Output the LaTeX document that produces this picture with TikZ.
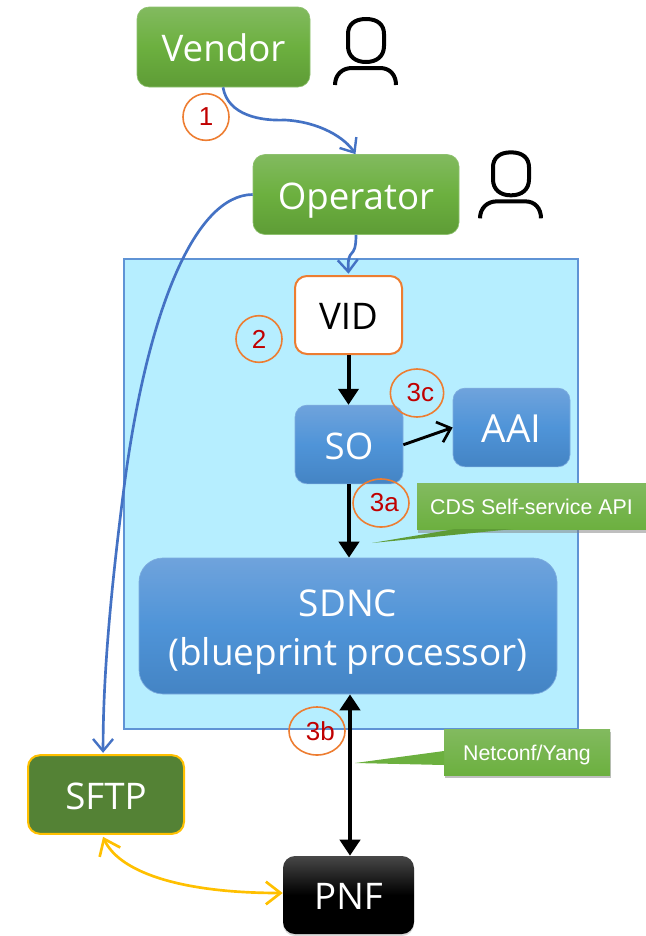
\documentclass[tikz,border=0pt]{standalone}
\usepackage{fontspec}
\setmainfont{Open Sans}
\newfontfamily\arialf{Liberation Sans}
\usetikzlibrary{arrows.meta,shadows,positioning,shapes.geometric}
\definecolor{gA}{HTML}{82BA5F}
\definecolor{gB}{HTML}{6CB03F}
\definecolor{gC}{HTML}{5E9C36}
\definecolor{bA}{HTML}{6FA3DC}
\definecolor{bB}{HTML}{4F94D8}
\definecolor{bC}{HTML}{4484C4}
\definecolor{conF}{HTML}{B6EEFF}
\definecolor{conD}{HTML}{5F93D5}
\definecolor{lineB}{HTML}{4472C4}
\definecolor{org}{HTML}{ED7D31}
\definecolor{yel}{HTML}{FFC000}
\definecolor{sftp}{HTML}{548235}
\definecolor{numr}{HTML}{C00000}
\tikzset{
  x=0.75pt,y=-0.75pt,
  boxfont/.style={font=\fontsize{27.5}{33}\selectfont,text height=22pt,text depth=0pt},
  boxbase/.style={rounded corners=9pt,minimum width=#1*0.75pt,inner sep=0pt,text=white,align=center},
  greenbox/.style={boxbase=#1,draw=gA!90!white,line width=.5pt,top color=gA,bottom color=gC,middle color=gB,minimum height=60pt,boxfont},
  bluebox/.style={boxbase=#1,draw=bA!90!white,line width=.5pt,top color=bA,bottom color=bC,middle color=bB,minimum height=59pt,boxfont},
  num/.style={draw=org,line width=1.2pt,ellipse,inner sep=0pt,text=numr,font=\arialf\fontsize{19.5}{22}\selectfont},
  callbox/.style={top color=gA,bottom color=gB,text=white,inner sep=0pt,align=center,font=\arialf\fontsize{16}{19}\selectfont,drop shadow={shadow xshift=1pt,shadow yshift=-2.5pt,opacity=.5}},
  blink/.style={draw=lineB,line width=2pt,-{Straight Barb[length=9pt,width=15pt,line width=1.8pt]}},
  blk/.style={draw=black,line width=3pt,-{Triangle[length=12pt,width=15pt]}},
  ylink/.style={draw=yel,line width=2pt,{Straight Barb[length=11pt,width=17pt,line width=2pt]}-{Straight Barb[length=11pt,width=17pt,line width=2pt]}},
  person/.style={draw=black,line width=3pt,line cap=butt}
}
\begin{document}
\begin{tikzpicture}
\useasboundingbox (0,0) rectangle (646,936);
\node[draw=conD,fill=conF,line width=.8pt,minimum width=340.5pt,minimum height=352.5pt,inner sep=0pt] (dc) at (351,494) {};

\node[greenbox=173] (vendor) at (223.5,47) {Vendor};
\node[greenbox=206] (operator) at (356,194.5) {Operator};
\node[boxbase=107,draw=org,line width=1.5pt,fill=white,text=black,minimum height=58.5pt,boxfont] (vid) at (348.5,315) {VID};
\node[bluebox=108] (so) at (349,444.5) {SO};
\node[bluebox=117,font=\fontsize{29}{33}\selectfont] (aai) at (511.5,427.5) {AAI};
\node[bluebox=418,rounded corners=18pt,minimum height=102pt,text height=,text depth=,font=\fontsize{27.7}{37}\selectfont] (sdnc) at (348,626) {\rule{0pt}{29pt}SDNC\\(blueprint processor)};
\node[boxbase=156,draw=yel,line width=1.5pt,fill=sftp,minimum height=59pt,boxfont] (sftp) at (106,794.5) {SFTP};
\node[boxbase=131,top color=black!72,bottom color=black,middle color=black,minimum height=58.5pt,boxfont,drop shadow={shadow xshift=0pt,shadow yshift=-1.5pt,opacity=.3}] (pnf) at (348.5,895) {PNF};

\node[num,minimum width=34.5pt,minimum height=35pt] (n1) at (206,117) {1};
\node[num,minimum width=34.5pt,minimum height=35pt] (n2) at (259,339) {2};
\node[num,minimum width=40pt,minimum height=36pt] (n3c) at (417,393) {\hspace{5pt}3c};
\node[num,minimum width=42pt,minimum height=36pt] (n3a) at (381,503) {\hspace{5pt}3a};
\node[num,minimum width=42pt,minimum height=36pt] (n3b) at (317,731) {\hspace{5pt}3b};

% arrows
\draw[blink] ([xshift=-0.4pt]vendor.south) .. controls (228,116) and (262,121) .. (285,120) .. controls (320,122) and (345,138) .. ([xshift=-0.4pt]operator.north);
\draw[blink] (operator.south) .. controls (356,262) and (347,245) .. ([yshift=1pt]vid.north);
\draw[blink] (operator.west) .. controls (195,195) and (148,310) .. (125,480) .. controls (108,610) and (103,690) .. ([xshift=-2.2pt,yshift=1pt]sftp.north);
\draw[ylink] ([xshift=-2.2pt,yshift=-1.5pt]sftp.south) .. controls (118,870) and (175,893) .. ([yshift=1.5pt]pnf.west);
\draw[blk] (vid.south) -- (so.north -| vid.south);
\draw[blk] (so.south) -- (sdnc.north -| so.south);
\draw[draw=black,line width=2.2pt,-{Straight Barb[length=9pt,width=16pt,line width=2pt]}] ([yshift=-0.2pt]so.east) -- (aai.west);
\draw[blk,{Triangle[length=12pt,width=15pt]}-{Triangle[length=12pt,width=15pt]}] ([xshift=1.5pt]sdnc.south) -- ([xshift=1.5pt]sdnc.south |- pnf.north);

% callouts
\node[callbox,minimum width=171.75pt,minimum height=34pt] (cds) at (531.5,506.5) {CDS Self-service API};
\node[callbox,minimum width=124.5pt,minimum height=34.5pt,text height=12pt,text depth=0pt] (nc) at (527,752) {Netconf/Yang};
\coordinate (cdstip) at (372,543);
\coordinate (nctip) at (355,763);
\fill[fill=gC] (455,529) -- (cdstip) -- (513,529) -- cycle;
\fill[fill=gB] (444,751) -- (nctip) -- (444,765) -- cycle;

% persons
\draw[person] (366,19) .. controls (354,19) and (348,25) .. (348,34) -- (348,46) .. controls (348,56) and (355,62) .. (366,62) .. controls (377,62) and (384,56) .. (384,46) -- (384,34) .. controls (384,25) and (378,19) .. cycle;
\draw[person] (335,85) .. controls (335,75) and (342,68) .. (352,68) -- (380,68) .. controls (390,68) and (396,75) .. (396,85);
\begin{scope}[xshift=108.75pt,yshift=-100pt]
\draw[person] (366,19) .. controls (354,19) and (348,25) .. (348,34) -- (348,46) .. controls (348,56) and (355,62) .. (366,62) .. controls (377,62) and (384,56) .. (384,46) -- (384,34) .. controls (384,25) and (378,19) .. cycle;
\draw[person] (335,85) .. controls (335,75) and (342,68) .. (352,68) -- (380,68) .. controls (390,68) and (396,75) .. (396,85);
\end{scope}
\end{tikzpicture}
\end{document}
